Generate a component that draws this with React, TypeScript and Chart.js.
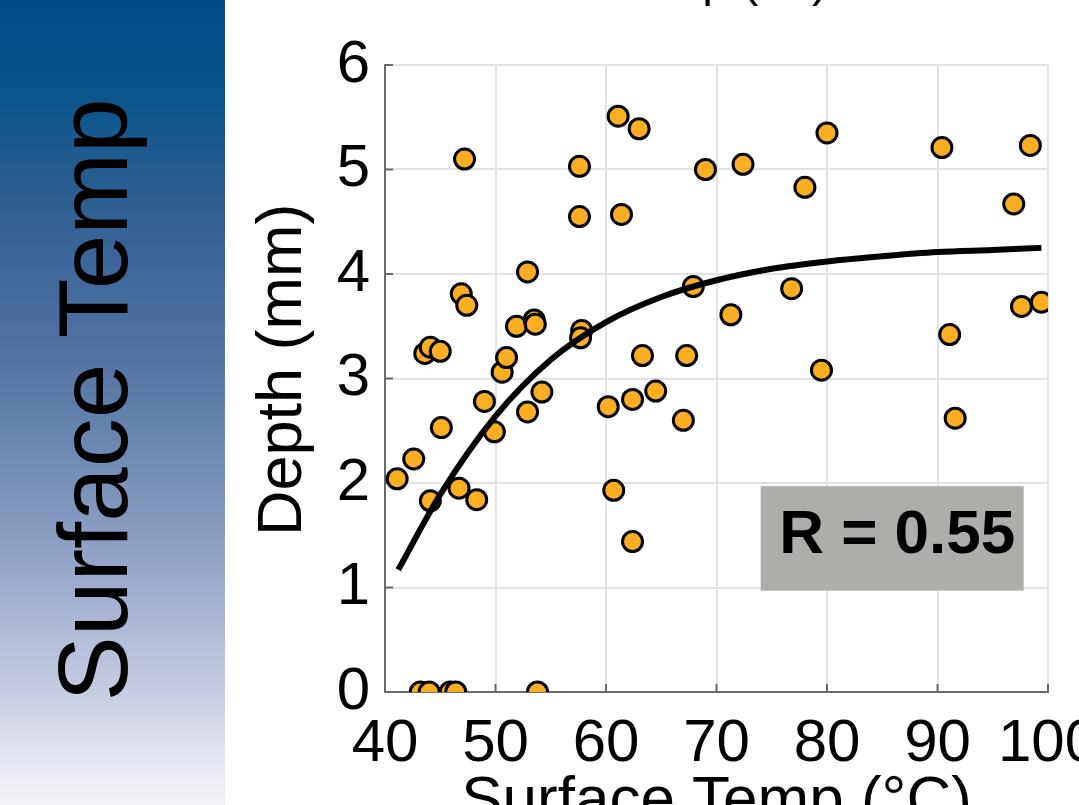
import React, { useEffect, useRef } from "react";
import { Chart, registerables } from "chart.js";

Chart.register(...registerables);

// ---- data ----
const surfaceTempC: number[] = [
  41.1, 42.6, 43.6, 44.1, 45.0, 45.1, 44.1, 46.7, 47.2, 46.9,
  47.4, 48.3, 49.0, 49.9, 50.6, 51.0, 51.9, 52.9, 52.9, 53.5,
  53.6, 54.2, 57.6, 57.6, 57.8, 57.7, 60.2, 60.7, 61.1, 61.4,
  63.0, 63.3, 62.4, 62.4, 64.5, 67.0, 67.3, 67.9, 69.0, 71.3,
  72.4, 76.8, 78.0, 79.5, 80.0, 90.4, 91.1, 91.6, 96.9, 97.6,
  98.4, 99.4, 43.2, 44.0, 45.9, 46.4, 53.8,
];
const depthMm: number[] = [
  2.04, 2.23, 3.24, 3.30, 3.26, 2.53, 1.83, 1.95, 5.10, 3.81,
  3.70, 1.84, 2.78, 2.49, 3.06, 3.20, 3.50, 4.02, 2.68, 3.56,
  3.52, 2.87, 5.03, 4.55, 3.46, 3.39, 2.73, 1.93, 5.51, 4.57,
  5.39, 3.22, 2.80, 1.44, 2.88, 2.60, 3.22, 3.88, 5.00, 3.61,
  5.05, 3.86, 4.83, 3.08, 5.35, 5.21, 3.42, 2.62, 4.67, 3.69,
  5.23, 3.73, 0, 0, 0, 0, 0,
];

// fitted curve
const fitTempC: number[] = [41.2, 45, 50, 55, 60, 65, 70, 75, 80, 85, 90, 95, 99.4];
const fitDepthMm: number[] = [1.17, 1.89, 2.64, 3.18, 3.54, 3.78, 3.94, 4.05, 4.12, 4.17, 4.21, 4.23, 4.25];

const xTicks: number[] = [40, 50, 60, 70, 80, 90, 100];
const yTicks: number[] = [0, 1, 2, 3, 4, 5, 6];

const panelLabel = "Surface Temp";
const chartTitle = "Surface Temp (°C)";
const xTitle = "Surface Temp (°C)";
const yTitle = " Depth (mm)";
const rLabel = "R = 0.55";
// annotation box in data units
const rBoxX: number[] = [74.0, 97.8];
const rBoxY: number[] = [0.97, 1.97];

const FONT = "'Liberation Sans', Arial, sans-serif";

const innerTicksPlugin = {
  id: "innerTicks",
  beforeDatasetsDraw(chart: any) {
    const { ctx, chartArea, scales } = chart;
    const x = scales.x;
    const y = scales.y;
    ctx.save();
    ctx.strokeStyle = "#6b6b6b";
    ctx.lineWidth = 2;
    ctx.beginPath();
    xTicks.forEach((v) => {
      const px = x.getPixelForValue(v);
      ctx.moveTo(px, chartArea.bottom);
      ctx.lineTo(px, chartArea.bottom - 8);
    });
    yTicks.forEach((v) => {
      const py = y.getPixelForValue(v);
      ctx.moveTo(chartArea.left, py);
      ctx.lineTo(chartArea.left + 8, py);
    });
    ctx.stroke();
    ctx.restore();
  },
};

const rBoxPlugin = {
  id: "rBox",
  afterDatasetsDraw(chart: any) {
    const { ctx, scales } = chart;
    const x1 = scales.x.getPixelForValue(rBoxX[0]);
    const x2 = scales.x.getPixelForValue(rBoxX[1]);
    const y1 = scales.y.getPixelForValue(rBoxY[1]);
    const y2 = scales.y.getPixelForValue(rBoxY[0]);
    ctx.save();
    ctx.fillStyle = "#adaea9";
    ctx.fillRect(x1, y1, x2 - x1, y2 - y1);
    ctx.fillStyle = "#000";
    ctx.font = `bold 62px ${FONT}`;
    ctx.textAlign = "center";
    ctx.textBaseline = "middle";
    ctx.fillText(rLabel, (x1 + x2) / 2 + 5, (y1 + y2) / 2 - 2);
    ctx.restore();
  },
};

export default function App() {
  const canvasRef = useRef<HTMLCanvasElement | null>(null);

  useEffect(() => {
    if (!canvasRef.current) return;
    const points = surfaceTempC.map((t, i) => ({ x: t, y: depthMm[i] }));
    const fit = fitTempC.map((t, i) => ({ x: t, y: fitDepthMm[i] }));
    const chart = new Chart(canvasRef.current, {
      type: "scatter",
      data: {
        datasets: [
          {
            type: "line",
            label: "fit",
            data: fit,
            borderColor: "#000",
            borderWidth: 6,
            borderCapStyle: "butt",
            pointRadius: 0,
            fill: false,
            cubicInterpolationMode: "monotone",
            order: 0,
          } as any,
          {
            label: "samples",
            data: points,
            backgroundColor: "#fbae21",
            borderColor: "#000",
            borderWidth: 3,
            pointRadius: 10,
            pointHoverRadius: 10,
            order: 1,
          },
        ],
      },
      options: {
        responsive: false,
        animation: false,
        events: [],
        layout: { padding: { left: 0, right: 77, top: 65, bottom: 0 } },
        plugins: {
          legend: { display: false },
          tooltip: { enabled: false },
          title: { display: false },
        },
        scales: {
          x: {
            type: "linear",
            min: 40,
            max: 100,
            afterBuildTicks: (s: any) => {
              s.ticks = xTicks.map((v) => ({ value: v }));
            },
            ticks: {
              color: "#000",
              font: { family: FONT, size: 60 },
              padding: 16,
              maxRotation: 0,
            },
            grid: { color: "#e3e3e3", lineWidth: 2, drawTicks: false },
            border: { color: "#6b6b6b", width: 2 },
            title: {
              display: true,
              text: xTitle,
              color: "#000",
              font: { family: FONT, size: 62 },
              padding: { top: 0, bottom: 0 },
            },
            afterFit: (s: any) => {
              s.height = 147;
            },
          },
          y: {
            type: "linear",
            min: 0,
            max: 6,
            afterBuildTicks: (s: any) => {
              s.ticks = yTicks.map((v) => ({ value: v }));
            },
            ticks: {
              color: "#000",
              font: { family: FONT, size: 60 },
              padding: 15,
            },
            grid: { color: "#e3e3e3", lineWidth: 2, drawTicks: false },
            border: { color: "#6b6b6b", width: 2 },
            title: {
              display: true,
              text: yTitle,
              color: "#000",
              font: { family: FONT, size: 63 },
              padding: { top: 21, bottom: 0 },
            },
            afterFit: (s: any) => {
              s.width = 160;
            },
          },
        },
      },
      plugins: [innerTicksPlugin, rBoxPlugin],
    });
    return () => chart.destroy();
  }, []);

  return (
    <div
      style={{
        position: "fixed",
        left: 0,
        top: 0,
        width: 1079,
        height: 805,
        overflow: "hidden",
        background: "#fff",
        fontFamily: FONT,
      }}
    >
      <div
        style={{
          position: "absolute",
          left: 0,
          top: 0,
          width: 225,
          height: 805,
          background:
            "linear-gradient(to bottom, #004b87 0%, #0a558c 12%, #2d5f93 25%, #4b6ea0 40%, #5f7daa 50%, #7891b9 60%, #96a5c8 70%, #b4bed7 80%, #cdd2e4 88%, #e6e8f2 95%, #f2f2f7 100%)",
        }}
      />
      <div
        style={{
          position: "absolute",
          left: 93,
          top: 400,
          transform: "translate(-50%, -50%) rotate(-90deg)",
          whiteSpace: "nowrap",
          fontSize: 98,
          lineHeight: "98px",
          color: "#000",
        }}
      >
        {panelLabel}
      </div>
      <canvas
        ref={canvasRef}
        width={900}
        height={839}
        style={{ position: "absolute", left: 225, top: 0, width: 900, height: 839 }}
      />
      <div
        style={{
          position: "absolute",
          left: 0,
          width: 828,
          top: -44,
          textAlign: "right",
          whiteSpace: "nowrap",
          fontSize: 48,
          lineHeight: "48px",
          color: "#000",
        }}
      >
        {chartTitle}
      </div>
    </div>
  );
}
